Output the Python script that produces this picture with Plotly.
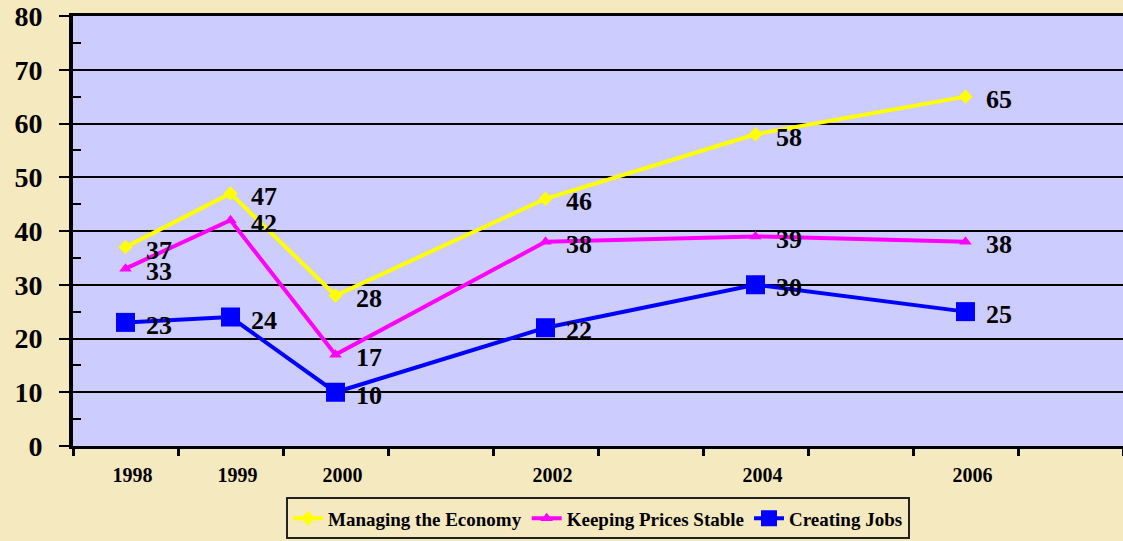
import plotly.graph_objects as go

years = [1998, 1999, 2000, 2002, 2004, 2006]
year_labels = ["1998", "1999", "2000", "2002", "2004", "2006"]
managing_economy = [37, 47, 28, 46, 58, 65]
keeping_prices = [33, 42, 17, 38, 39, 38]
creating_jobs = [23, 24, 10, 22, 30, 25]
y_ticks = [0, 10, 20, 30, 40, 50, 60, 70, 80]

FONT = "Liberation Serif"
series = [
    ("Managing the Economy", managing_economy, "#FFFF00", "diamond", 11),
    ("Keeping Prices Stable", keeping_prices, "#FF00FF", "triangle-up", 11),
    ("Creating Jobs", creating_jobs, "#0000FF", "square", 19),
]

fig = go.Figure()
for name, vals, color, sym, size in series:
    fig.add_trace(go.Scatter(
        x=years, y=vals, name=f"<b>{name}</b>", mode="lines+markers",
        line=dict(color=color, width=4),
        marker=dict(symbol=sym, size=size, color=color),
    ))
    for xv, yv in zip(years, vals):
        fig.add_annotation(x=xv, y=yv, text=f"<b>{yv}</b>", showarrow=False,
                           xanchor="left", yanchor="middle", xshift=18, yshift=-3,
                           font=dict(family=FONT, size=26, color="black"))

fig.update_layout(
    width=1123, height=541,
    paper_bgcolor="#F5E9C0", plot_bgcolor="#CCCCFF",
    margin=dict(l=73, r=0, t=16, b=95, autoexpand=False),
    font=dict(family=FONT, color="black"),
    showlegend=True,
    legend=dict(orientation="h", x=0.5, xanchor="center",
                yref="container", y=0.003, yanchor="bottom",
                bgcolor="#F5E9C0", bordercolor="#222222", borderwidth=2,
                font=dict(family=FONT, size=19, color="black"),
                itemwidth=30, tracegroupgap=0),
)
fig.update_xaxes(
    range=[1997.5, 2007.5], tickmode="array", tickvals=years,
    ticktext=[f"<b>{t}</b>" for t in year_labels],
    tickfont=dict(family=FONT, size=20, color="black"),
    ticks="", ticklabelstandoff=9, ticklabelshift=7,
    showgrid=False, zeroline=False,
    showline=True, linecolor="black", linewidth=3, mirror=True,
    minor=dict(tickvals=[1997.5 + i for i in range(11)], ticks="outside",
               ticklen=7, tickwidth=3, tickcolor="black", showgrid=False),
)
fig.update_yaxes(
    range=[0, 80], tickmode="array", tickvals=y_ticks,
    ticktext=[f"<b>{t}</b>" for t in y_ticks],
    tickfont=dict(family=FONT, size=28, color="black"),
    ticks="outside", ticklen=10, tickwidth=2, tickcolor="black",
    ticklabelstandoff=11,
    showgrid=True, gridcolor="black", gridwidth=1.5, zeroline=False,
    showline=True, linecolor="black", linewidth=4,
    minor=dict(tickvals=[5, 15, 25, 35, 45, 55, 65, 75], ticks="inside",
               ticklen=8, tickwidth=2, tickcolor="black", showgrid=False),
)
fig.write_html("out.html", config={"displayModeBar": False},
               post_script="document.body.style.margin='0';document.body.style.overflow='hidden';")
